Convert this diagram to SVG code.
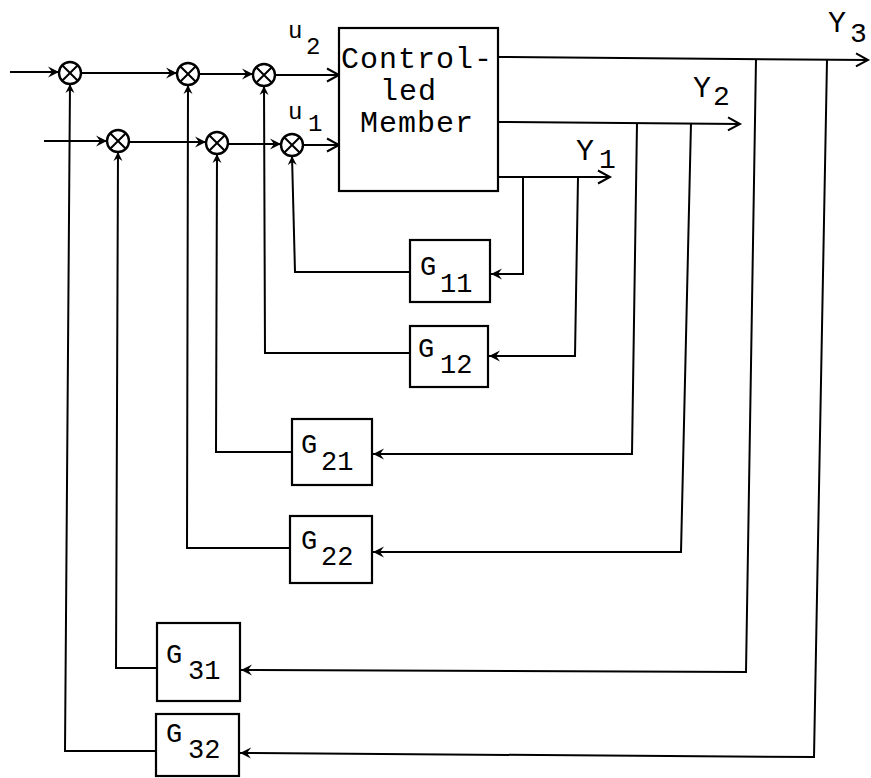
<svg xmlns="http://www.w3.org/2000/svg" width="871" height="778" viewBox="0 0 871 778">
<style>
.bx{fill:#fff;stroke:#000;stroke-width:2.2}
.ln{fill:none;stroke:#000;stroke-width:2}
.sj{fill:#fff;stroke:#000;stroke-width:2.4}
.sx{stroke:#000;stroke-width:2}
text{font-family:"Liberation Mono","Courier New",monospace;fill:#000}
.big{font-size:30px;letter-spacing:1px}
.lbl{font-size:24px}
.yl{font-size:30px}
.ys{font-size:28px}
.g{font-size:27px}
</style>
<defs>
<marker id="open" markerUnits="userSpaceOnUse" markerWidth="16" markerHeight="16" refX="13" refY="8" orient="auto">
<path d="M1,1.5 L13,8 L1,14.5" fill="none" stroke="#000" stroke-width="2"/>
</marker>
<marker id="barb" markerUnits="userSpaceOnUse" markerWidth="14" markerHeight="14" refX="11" refY="6" orient="auto">
<path d="M0,0.5 L11,6 L0,11.5 L4,6 Z" fill="#000"/>
</marker>
<marker id="up" markerUnits="userSpaceOnUse" markerWidth="12" markerHeight="12" refX="9" refY="5" orient="auto">
<path d="M0,0.5 L9,5 L0,9.5 L3,5 Z" fill="#000"/>
</marker>
</defs>

<g id="connectors">
<!-- forward top row -->
<path class="ln" d="M10,72 H59" marker-end="url(#barb)"/>
<path class="ln" d="M81,73 H177" marker-end="url(#barb)"/>
<path class="ln" d="M199,74 H253" marker-end="url(#barb)"/>
<path class="ln" d="M275,75 H339" marker-end="url(#open)"/>
<!-- forward bottom row -->
<path class="ln" d="M44,141 H107" marker-end="url(#barb)"/>
<path class="ln" d="M129,142 H206" marker-end="url(#barb)"/>
<path class="ln" d="M228,144 H281" marker-end="url(#barb)"/>
<path class="ln" d="M303,145 H339" marker-end="url(#open)"/>
<!-- outputs -->
<path class="ln" d="M498,57 L868,60" marker-end="url(#open)"/>
<path class="ln" d="M498,122 L740,124" marker-end="url(#open)"/>
<path class="ln" d="M498,177 L610,177" marker-end="url(#open)"/>
<!-- feedback into G blocks -->
<path class="ln" d="M523,177 L523,274 L491,274" marker-end="url(#barb)"/>
<path class="ln" d="M578,177 L575,356 L489,356" marker-end="url(#barb)"/>
<path class="ln" d="M637,123 L632,454 L373,454" marker-end="url(#barb)"/>
<path class="ln" d="M691,123 L681,552 L373,552" marker-end="url(#barb)"/>
<path class="ln" d="M756,59 L746,672 L241,670" marker-end="url(#barb)"/>
<path class="ln" d="M827,60 L814,757 L240,753" marker-end="url(#barb)"/>
<!-- G outputs to summing junctions -->
<path class="ln" d="M410,272 H295 L292,156" marker-end="url(#up)"/>
<path class="ln" d="M410,353 H265 L264,86" marker-end="url(#up)"/>
<path class="ln" d="M292,452 H216 L217,154" marker-end="url(#up)"/>
<path class="ln" d="M290,548 H187 L188,85" marker-end="url(#up)"/>
<path class="ln" d="M157,668 H116 L118,152" marker-end="url(#up)"/>
<path class="ln" d="M156,751 H65 L70,84" marker-end="url(#up)"/>
</g>

<g id="s1"><circle class="sj" cx="70" cy="73" r="11"/><path class="sx" d="M62.2,65.2 L77.8,80.8 M77.8,65.2 L62.2,80.8"/></g>
<g id="s2"><circle class="sj" cx="188" cy="74" r="11"/><path class="sx" d="M180.2,66.2 L195.8,81.8 M195.8,66.2 L180.2,81.8"/></g>
<g id="s3"><circle class="sj" cx="264" cy="75" r="11"/><path class="sx" d="M256.2,67.2 L271.8,82.8 M271.8,67.2 L256.2,82.8"/></g>
<g id="s4"><circle class="sj" cx="118" cy="141" r="11"/><path class="sx" d="M110.2,133.2 L125.8,148.8 M125.8,133.2 L110.2,148.8"/></g>
<g id="s5"><circle class="sj" cx="217" cy="143" r="11"/><path class="sx" d="M209.2,135.2 L224.8,150.8 M224.8,135.2 L209.2,150.8"/></g>
<g id="s6"><circle class="sj" cx="292" cy="145" r="11"/><path class="sx" d="M284.2,137.2 L299.8,152.8 M299.8,137.2 L284.2,152.8"/></g>

<g id="member">
<rect class="bx" x="339" y="28" width="159" height="163"/>
<text class="big" x="341" y="68">Control-</text>
<text class="big" x="380" y="100">led</text>
<text class="big" x="360" y="132">Member</text>
</g>

<g id="inputs-labels">
<text class="lbl" x="288" y="38">u</text><text class="lbl" x="306" y="54">2</text>
<text class="lbl" x="288" y="119">u</text><text class="lbl" x="308" y="131">1</text>
</g>

<g id="outputs-labels">
<text class="yl" x="828" y="32">Y</text><text class="ys" x="850" y="42">3</text>
<text class="yl" x="693" y="97">Y</text><text class="ys" x="713" y="105">2</text>
<text class="yl" x="576" y="160">Y</text><text class="ys" x="599" y="168">1</text>
</g>

<g id="G11"><rect class="bx" x="410" y="240" width="80" height="62"/><text class="g" x="420" y="275">G</text><text class="g" x="440" y="292">11</text></g>
<g id="G12"><rect class="bx" x="410" y="326" width="78" height="61"/><text class="g" x="418" y="357">G</text><text class="g" x="440" y="373">12</text></g>
<g id="G21"><rect class="bx" x="292" y="419" width="80" height="66"/><text class="g" x="301" y="453">G</text><text class="g" x="321" y="470">21</text></g>
<g id="G22"><rect class="bx" x="290" y="516" width="82" height="67"/><text class="g" x="301" y="549">G</text><text class="g" x="321" y="565">22</text></g>
<g id="G31"><rect class="bx" x="157" y="623" width="83" height="78"/><text class="g" x="166" y="663">G</text><text class="g" x="188" y="679">31</text></g>
<g id="G32"><rect class="bx" x="156" y="714" width="83" height="62"/><text class="g" x="166" y="742">G</text><text class="g" x="188" y="758">32</text></g>
</svg>
